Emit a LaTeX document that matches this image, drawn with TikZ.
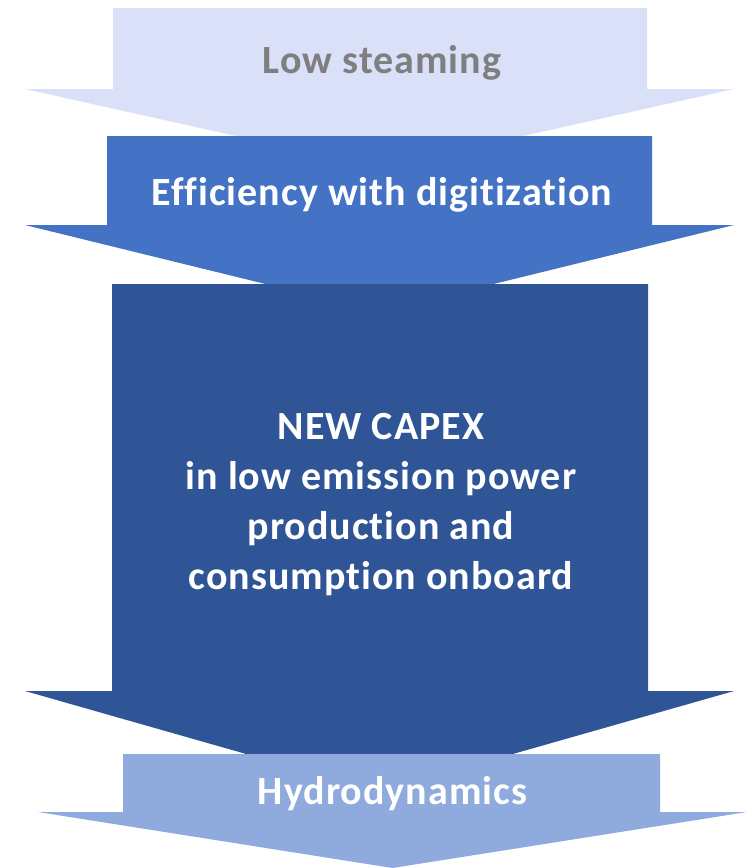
\documentclass[tikz,border=0pt]{standalone}
\usepackage{fontspec}
\setmainfont{Carlito}[Ligatures=NoCommon,LetterSpace=2.5]
\usepackage{tikz}
\definecolor{steamfill}{RGB}{218,224,248}
\definecolor{digifill}{RGB}{68,114,196}
\definecolor{capexfill}{RGB}{47,85,151}
\definecolor{hydrofill}{RGB}{143,170,220}
\definecolor{steamtext}{RGB}{127,127,127}
\tikzset{
  stagetext/.style={font=\fontsize{30}{37.5}\selectfont\bfseries, text=white, anchor=base, inner sep=0pt, align=center}
}

\begin{document}
\begin{tikzpicture}[x=0.75pt,y=-0.75pt]
  \useasboundingbox (0,0) rectangle (749,868);
  \foreach \sl/\sr/\tp/\sh/\wl/\wr/\tip/\col in {
      113/647/8/89/25/734/168/steamfill,
      107/652/136/225/25/734/312/digifill,
      112/648/284/691/25/734/792/capexfill,
      123/660/754/812/38/747/868/hydrofill}{
    \fill[\col] (\sl,\tp) -- (\sr,\tp) -- (\sr,\sh) -- (\wr,\sh)
      -- ({(\wl+\wr)/2},\tip) -- (\wl,\sh) -- (\sl,\sh) -- cycle;
  }
  \node[stagetext, text=steamtext] (steam) at (382,73) {Low steaming};
  \node[stagetext] (digi) at (382,205) {Efficiency with digitization};
  \node[stagetext] (capex) at (381,589) {NEW CAPEX\\in low emission power\\production and\\consumption onboard};
  \node[stagetext] (hydro) at (392.5,804) {Hydrodynamics};
\end{tikzpicture}
\end{document}
